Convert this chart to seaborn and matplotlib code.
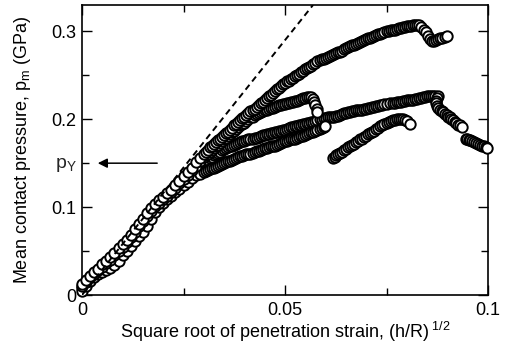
import numpy as np
import pandas as pd
import matplotlib
matplotlib.use("Agg")
import matplotlib.pyplot as plt
from matplotlib.ticker import MultipleLocator, FuncFormatter
import seaborn as sns

# x values are sqrt(h/R) in units of 1e-3, y values are p_m in GPa
a_x = [0, 1, 2, 3, 4, 5, 6, 7, 8, 9, 10, 11, 12, 13, 14, 15, 16, 17, 18, 19,
       20, 21, 22, 23, 24, 25, 26, 27, 28, 29,
       30, 30.5, 31, 31.5, 32, 32.5, 33, 33.5, 34, 34.5, 35, 35.5, 36, 36.5, 37, 37.5,
       38, 38.5, 39, 39.5, 40, 40.5, 41, 41.5, 42, 42.5, 43, 43.5, 44, 44.5, 45, 45.5,
       46, 46.5, 47, 47.5, 48, 48.5, 49, 49.5, 50, 50.5, 51, 51.5, 52, 52.5, 53, 53.5,
       54, 54.5, 55, 55.5, 56, 56.5, 57, 57.5, 58, 58.5, 59, 59.5, 60, 60.5, 61, 61.5,
       62, 62.5, 63, 63.5, 64, 64.5, 65, 65.5, 66, 66.5, 67, 67.5, 68, 68.5, 69, 69.5,
       70, 70.5, 71, 71.5, 72, 72.5, 73, 73.5, 74, 74.5, 75, 75.5, 76, 76.5, 77, 77.5,
       78, 78.5, 79, 79.5, 80, 80.5, 81, 81.5, 82, 82.5, 83,
       83.6, 84.2, 84.8, 85.3, 85.7, 86.2, 86.6, 87.1, 87.6, 88.2, 88.7, 89.3, 89.9]
a_y = [0.012, 0.017, 0.022, 0.026, 0.030, 0.035, 0.039, 0.043, 0.048, 0.053,
       0.058, 0.063, 0.068, 0.075, 0.081, 0.087, 0.093, 0.099, 0.104, 0.108,
       0.112, 0.116, 0.120, 0.125, 0.130, 0.135, 0.140, 0.145, 0.151, 0.156,
       0.161, 0.163, 0.165, 0.168, 0.170, 0.172, 0.174, 0.176, 0.178, 0.180, 0.182, 0.184,
       0.186, 0.188, 0.190, 0.193, 0.195, 0.197, 0.199, 0.201, 0.203, 0.205, 0.207, 0.209,
       0.211, 0.212, 0.214, 0.216, 0.218, 0.220, 0.222, 0.224, 0.226, 0.228, 0.230, 0.232,
       0.234, 0.236, 0.238, 0.240, 0.241, 0.243, 0.244, 0.246, 0.247, 0.249, 0.250, 0.252,
       0.254, 0.255, 0.257, 0.258, 0.260, 0.261, 0.263, 0.264, 0.266, 0.267, 0.268, 0.269,
       0.270, 0.271, 0.272, 0.273, 0.274, 0.275, 0.276, 0.277, 0.278, 0.280, 0.281, 0.282,
       0.283, 0.284, 0.285, 0.286, 0.287, 0.288, 0.289, 0.290, 0.291, 0.292, 0.293, 0.294,
       0.295, 0.296, 0.297, 0.297, 0.298, 0.299, 0.300, 0.300, 0.301, 0.302, 0.302, 0.303,
       0.304, 0.304, 0.305, 0.305, 0.306, 0.306, 0.306, 0.307, 0.307, 0.307, 0.307,
       0.305, 0.302, 0.299, 0.295, 0.291, 0.289, 0.289, 0.290, 0.291, 0.292, 0.293, 0.294, 0.295]

b_x = [0, 1, 2, 3, 4, 5, 6, 7, 8, 9, 10, 11, 12, 13, 14, 15, 16, 17, 18, 19,
       20, 21, 22, 23, 24, 25, 26, 27, 28, 29,
       30, 30.5, 31, 31.5, 32, 32.5, 33, 33.5, 34, 34.5, 35, 35.5, 36, 36.5, 37, 37.5,
       38, 38.5, 39, 39.5, 40, 40.5, 41, 41.5, 42, 42.5, 43, 43.5, 44, 44.5, 45, 45.5,
       46, 46.5, 47, 47.5, 48, 48.5, 49, 49.5, 50, 50.5, 51, 51.5, 52, 52.5, 53, 53.5,
       54, 54.5, 55, 55.5, 56, 56.5, 56.9, 57.2, 57.5, 57.8, 58.0]
b_y = [0.010, 0.015, 0.020, 0.024, 0.028, 0.032, 0.036, 0.040, 0.045, 0.050,
       0.055, 0.060, 0.066, 0.072, 0.078, 0.084, 0.090, 0.096, 0.101, 0.105,
       0.109, 0.113, 0.117, 0.122, 0.127, 0.132, 0.137, 0.142, 0.147, 0.152,
       0.157, 0.159, 0.161, 0.163, 0.165, 0.167, 0.169, 0.171, 0.173, 0.175, 0.177, 0.179,
       0.181, 0.183, 0.185, 0.187, 0.189, 0.191, 0.193, 0.195, 0.196, 0.198, 0.200, 0.202,
       0.203, 0.205, 0.206, 0.207, 0.208, 0.209, 0.210, 0.211, 0.212, 0.213, 0.213, 0.214,
       0.215, 0.216, 0.216, 0.217, 0.217, 0.218, 0.219, 0.220, 0.220, 0.221, 0.221, 0.222,
       0.223, 0.224, 0.224, 0.225, 0.225, 0.225, 0.223, 0.220, 0.216, 0.212, 0.208]

c_x = [0, 1, 2, 3, 4, 5, 6, 7, 8, 9, 10, 11, 12, 13, 14, 15, 16, 17, 18, 19,
       20, 21, 22, 23, 24, 25, 26, 27, 28, 29,
       30, 30.5, 31, 31.5, 32, 32.5, 33, 33.5, 34, 34.5, 35, 35.5, 36, 36.5, 37, 37.5,
       38, 38.5, 39, 39.5, 40, 40.5, 41, 41.5, 42, 42.5, 43, 43.5, 44, 44.5, 45, 45.5,
       46, 46.5, 47, 47.5, 48, 48.5, 49, 49.5, 50, 50.5, 51, 51.5, 52, 52.5, 53, 53.5,
       54, 54.5, 55, 55.5, 56, 56.5, 57, 57.5, 58, 58.5, 59, 59.5, 60, 60.5, 61, 61.5,
       62, 62.5, 63, 63.5, 64, 64.5, 65, 65.5, 66, 66.5, 67, 67.5, 68, 68.5, 69, 69.5,
       70, 70.5, 71, 71.5, 72, 72.5, 73, 73.5, 74, 74.5, 75, 75.8]
c_y = [0.008, 0.013, 0.018, 0.022, 0.026, 0.030, 0.034, 0.038, 0.043, 0.048,
       0.053, 0.058, 0.063, 0.069, 0.075, 0.081, 0.087, 0.093, 0.098, 0.102,
       0.106, 0.110, 0.114, 0.118, 0.122, 0.127, 0.132, 0.137, 0.142, 0.147,
       0.151, 0.153, 0.154, 0.156, 0.157, 0.159, 0.160, 0.162, 0.163, 0.165, 0.166, 0.167,
       0.168, 0.169, 0.170, 0.171, 0.172, 0.173, 0.174, 0.175, 0.175, 0.176, 0.177, 0.178,
       0.178, 0.179, 0.179, 0.180, 0.181, 0.182, 0.182, 0.183, 0.183, 0.184, 0.184, 0.185,
       0.186, 0.187, 0.187, 0.188, 0.188, 0.189, 0.190, 0.191, 0.191, 0.192, 0.192, 0.193,
       0.194, 0.195, 0.195, 0.196, 0.196, 0.197, 0.197, 0.198, 0.199, 0.200, 0.200, 0.201,
       0.201, 0.202, 0.202, 0.203, 0.203, 0.204, 0.204, 0.205, 0.206, 0.207, 0.207, 0.208,
       0.208, 0.209, 0.209, 0.210, 0.210, 0.211, 0.211, 0.212, 0.212, 0.213, 0.213, 0.214,
       0.214, 0.215, 0.215, 0.216, 0.216, 0.217, 0.217, 0.218]

e_x = [76.5, 77, 77.5, 78, 78.5, 79, 79.5, 80, 80.5, 81, 81.5, 82, 82.5, 83, 83.5,
       84, 84.5, 85, 85.5, 86, 86.5, 87, 87.7,
       87.5, 87.3, 87.2, 87.4, 87.8, 88.2, 88.6, 89.0, 89.4, 89.8, 90.2, 90.6, 91.0,
       91.4, 91.8, 92.2, 92.6, 93.1, 93.6,
       94.5, 94.9, 95.2, 95.6, 96.0, 96.5, 97.0, 97.5, 98.0, 98.5, 99.0, 99.4, 99.8]
e_y = [0.219, 0.219, 0.220, 0.220, 0.220, 0.221, 0.221, 0.222, 0.222, 0.222, 0.222,
       0.223, 0.223, 0.224, 0.224, 0.225, 0.225, 0.226, 0.226, 0.226, 0.226, 0.227, 0.227,
       0.224, 0.221, 0.218, 0.215, 0.213, 0.211, 0.209, 0.208, 0.206, 0.205, 0.203,
       0.202, 0.200, 0.199, 0.197, 0.196, 0.194, 0.193, 0.191,
       0.178, 0.177, 0.176, 0.176, 0.175, 0.174, 0.173, 0.172, 0.171, 0.170, 0.169, 0.168, 0.167]

d_x = [0, 1, 2, 3, 4, 5, 6, 7, 8, 9, 10, 11, 12, 13, 14, 15, 16, 17, 18, 19,
       20, 21, 22, 23, 24, 25, 26, 27, 28, 29,
       30, 30.5, 31, 31.5, 32, 32.5, 33, 33.5, 34, 34.5, 35, 35.5, 36, 36.5, 37, 37.5,
       38, 38.5, 39, 39.5, 40, 40.5, 41, 41.5, 42, 42.5, 43, 43.5, 44, 44.5, 45, 45.5,
       46, 46.5, 47, 47.5, 48, 48.5, 49, 49.5, 50, 50.5, 51, 51.5, 52, 52.5, 53, 53.5,
       54, 54.5, 55, 55.5, 56, 56.5, 57, 57.5, 58, 58.5, 59, 59.5, 59.9]
d_y = [0.005, 0.010, 0.016, 0.021, 0.024, 0.026, 0.028, 0.031, 0.034, 0.039,
       0.045, 0.050, 0.056, 0.062, 0.067, 0.072, 0.079, 0.087, 0.094, 0.100,
       0.105, 0.109, 0.113, 0.117, 0.121, 0.125, 0.129, 0.133, 0.136, 0.138,
       0.140, 0.141, 0.142, 0.143, 0.144, 0.145, 0.146, 0.147, 0.148, 0.149, 0.150, 0.151,
       0.152, 0.153, 0.154, 0.155, 0.156, 0.157, 0.158, 0.158, 0.159, 0.160, 0.161, 0.161,
       0.162, 0.163, 0.164, 0.164, 0.165, 0.166, 0.167, 0.167, 0.168, 0.169, 0.170, 0.170,
       0.171, 0.172, 0.173, 0.174, 0.175, 0.175, 0.176, 0.177, 0.178, 0.178, 0.179, 0.180,
       0.181, 0.181, 0.182, 0.183, 0.184, 0.185, 0.186, 0.187, 0.188, 0.189, 0.190, 0.191, 0.192]

f_x = [61.8, 62.2, 62.6, 63, 63.5, 64, 64.5, 65, 65.5, 66, 66.5, 67, 67.5, 68, 68.5,
       69, 69.5, 70, 70.5, 71, 71.5, 72, 72.5, 73, 73.5, 74, 74.5, 75, 75.5, 76,
       76.5, 77, 77.5, 78, 78.5, 79, 79.5, 80, 80.8]
f_y = [0.156, 0.157, 0.159, 0.160, 0.162, 0.163, 0.165, 0.166, 0.168, 0.169, 0.171,
       0.172, 0.174, 0.175, 0.177, 0.178, 0.180, 0.181, 0.183, 0.184, 0.186, 0.187,
       0.189, 0.190, 0.192, 0.193, 0.195, 0.196, 0.197, 0.198, 0.199, 0.199, 0.200,
       0.200, 0.200, 0.200, 0.199, 0.198, 0.195]

# Hertzian elastic line
hertz_x = [0, 56.9]
hertz_y = [0, 0.33]
p_yield = 0.15

series = [("C", c_x, c_y), ("E", e_x, e_y), ("D", d_x, d_y),
          ("F", f_x, f_y), ("B", b_x, b_y), ("A", a_x, a_y)]

sns.set_theme(style="ticks")
plt.rcParams['font.family'] = ['Liberation Sans', 'DejaVu Sans']
plt.rcParams['mathtext.fontset'] = 'custom'
plt.rcParams['mathtext.rm'] = 'Liberation Sans'
plt.rcParams['mathtext.it'] = 'Liberation Sans'
font_size = 13

fig = plt.figure(figsize=(5.08, 3.55), dpi=100)
ax = fig.add_axes([82 / 508, 60 / 355, 406 / 508, 290 / 355])

for name, xs, ys in series:
    df = pd.DataFrame({"strain": np.array(xs) / 1000.0, "pm": ys})
    sns.scatterplot(data=df, x="strain", y="pm", ax=ax, color="white",
                    edgecolor="black", linewidth=1.4, s=56, marker="o",
                    clip_on=False, zorder=3)

sns.lineplot(x=np.array(hertz_x) / 1000.0, y=hertz_y, ax=ax, color="black",
             linestyle=(0, (3.2, 2.2)), linewidth=1.4, zorder=4)

ax.annotate("", xy=(0.0032, p_yield), xytext=(0.0192, p_yield),
            arrowprops=dict(arrowstyle="-|>", color="black", lw=1.1,
                            mutation_scale=14))
ax.text(-0.0013, p_yield - 0.002, r"p$_\mathrm{Y}$", ha="right", va="center",
        fontsize=font_size + 1)

ax.set_xlim(0, 0.1)
ax.set_ylim(0, 0.33)
ax.xaxis.set_major_locator(MultipleLocator(0.05))
ax.xaxis.set_minor_locator(MultipleLocator(0.025))
ax.yaxis.set_major_locator(MultipleLocator(0.1))
ax.yaxis.set_minor_locator(MultipleLocator(0.05))
fmt = FuncFormatter(lambda v, pos: "{:g}".format(round(v, 3)))
ax.xaxis.set_major_formatter(fmt)
ax.yaxis.set_major_formatter(fmt)
ax.tick_params(which="both", direction="in", top=True, right=True,
               labelsize=font_size, width=1.0, color="black", labelcolor="black")
ax.tick_params(which="major", length=7)
ax.tick_params(which="minor", length=5)
ax.tick_params(axis="x", which="major", pad=5)
ax.tick_params(axis="y", which="major", pad=4)
for sp in ax.spines.values():
    sp.set_linewidth(1.2)
    sp.set_color("black")

ax.set_xlabel(r"Square root of penetration strain, (h/R)$^{\ 1/2}$",
              fontsize=font_size, color="black")
ax.xaxis.set_label_coords(0.5, -0.085)
ax.set_ylabel(r"Mean contact pressure, p$_\mathrm{m}$ (GPa)",
              fontsize=font_size, color="black")
ax.yaxis.set_label_coords(-0.12, 0.5)

fig.savefig("out.png", dpi=100)
